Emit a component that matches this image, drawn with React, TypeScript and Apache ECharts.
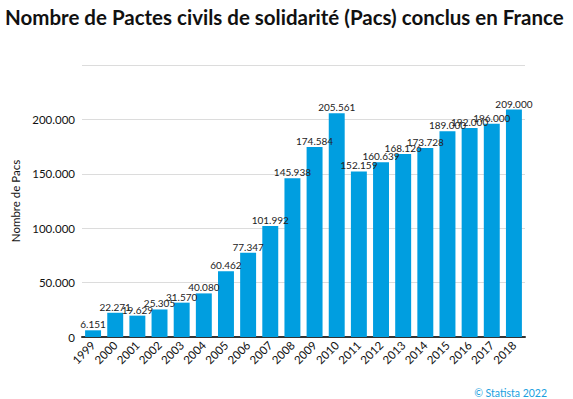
import React, { useEffect, useRef } from "react";
import * as echarts from "echarts";

const years = ["1999","2000","2001","2002","2003","2004","2005","2006","2007","2008","2009","2010","2011","2012","2013","2014","2015","2016","2017","2018"];
const pacs = [6151,22271,19629,25305,31570,40080,60462,77347,101992,145938,174584,205561,152159,160639,168126,173728,189000,192000,196000,209000];

const fmt = (v: number) => {
  const s = Math.round(v).toString();
  return s.replace(/\B(?=(\d{3})+(?!\d))/g, ".");
};

export default function App() {
  const ref = useRef<HTMLDivElement>(null);
  useEffect(() => {
    const chart = echarts.init(ref.current!, null, { renderer: "svg" });
    const font = "Lato, 'Noto Sans', sans-serif";
    chart.setOption({
      animation: false,
      textStyle: { fontFamily: font },
      title: {
        text: "Nombre de Pactes civils de solidarité (Pacs) conclus en France",
        left: 0,
        top: 1,
        textStyle: { fontSize: 20.5, fontWeight: "bold", color: "#111", fontFamily: font },
      },
      graphic: [
        {
          type: "text",
          right: 26,
          bottom: 1,
          style: { text: "© Statista 2022", fontSize: 10.5, fill: "#1a9fe0", fontFamily: font },
        },
      ],
      grid: { left: 82, right: 48, top: 65, bottom: 62 },
      xAxis: {
        type: "category",
        data: years,
        axisLine: { lineStyle: { color: "#333", width: 2 } },
        axisTick: { show: false },
        axisLabel: { rotate: 45, fontSize: 11.5, color: "#111", margin: 6, interval: 0, fontFamily: font },
      },
      yAxis: {
        type: "value",
        min: 0,
        max: 250000,
        interval: 50000,
        name: "Nombre de Pacs",
        nameLocation: "middle",
        nameGap: 51,
        nameTextStyle: { fontSize: 11.5, color: "#111", fontFamily: font },
        axisLine: { show: false },
        axisTick: { show: false },
        splitLine: { lineStyle: { color: "#dcdcdc", width: 1 } },
        axisLabel: {
          fontSize: 11.5,
          color: "#111",
          margin: 7,
          fontFamily: font,
          formatter: (v: number) => (v === 250000 ? "" : fmt(v)),
        },
      },
      series: [
        {
          type: "bar",
          data: pacs,
          barCategoryGap: "28%",
          itemStyle: { color: "#009ee0" },
          label: {
            show: true,
            position: "top",
            distance: 1,
            fontSize: 10,
            color: "#222",
            fontFamily: font,
            formatter: (p: any) => fmt(p.value),
          },
          labelLayout: { moveOverlap: "shiftY" },
        },
      ],
    });
    return () => chart.dispose();
  }, []);
  return <div ref={ref} style={{ width: 573, height: 399, position: "absolute", left: 0, top: 0 }} />;
}
